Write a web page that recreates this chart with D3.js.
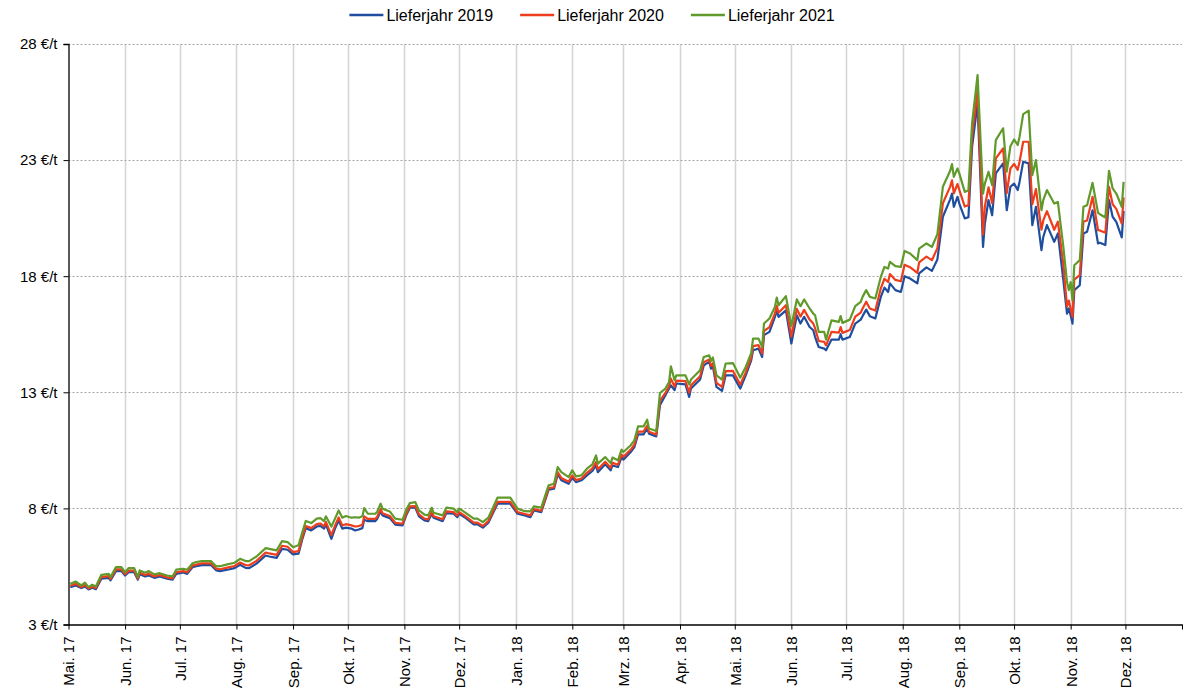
<!DOCTYPE html>
<html>
<head>
<meta charset="utf-8">
<script src="https://cdn.jsdelivr.net/npm/d3@7"></script>
<style>
  body { margin: 0; background: #fff; }
  text { font-family: "Liberation Sans", Arial, sans-serif; fill: #000; }
</style>
</head>
<body>
<div id="chart"></div>
<script>
// series names + colours
const seriesNames = ["Lieferjahr 2019", "Lieferjahr 2020", "Lieferjahr 2021"];
const seriesColors = ["#1f4e9e", "#ee3d1c", "#5f9a2b"];

// trading days
const dates = [
  "2017-05-02","2017-05-05","2017-05-08","2017-05-10","2017-05-12","2017-05-14","2017-05-16","2017-05-19","2017-05-23","2017-05-24",
  "2017-05-27","2017-05-30","2017-06-01","2017-06-03","2017-06-06","2017-06-08","2017-06-09","2017-06-12","2017-06-14","2017-06-17",
  "2017-06-20","2017-06-24","2017-06-27","2017-06-29","2017-07-03","2017-07-05","2017-07-08","2017-07-10","2017-07-13","2017-07-18",
  "2017-07-21","2017-07-23","2017-07-27","2017-07-31","2017-08-03","2017-08-06","2017-08-08","2017-08-12","2017-08-17","2017-08-19",
  "2017-08-23","2017-08-26","2017-08-29","2017-09-01","2017-09-04","2017-09-06","2017-09-08","2017-09-11","2017-09-14","2017-09-16",
  "2017-09-18","2017-09-19","2017-09-22","2017-09-24","2017-09-26","2017-09-28","2017-09-30","2017-10-03","2017-10-05","2017-10-07",
  "2017-10-09","2017-10-10","2017-10-12","2017-10-16","2017-10-17","2017-10-19","2017-10-20","2017-10-24","2017-10-27","2017-10-31",
  "2017-11-02","2017-11-04","2017-11-07","2017-11-09","2017-11-12","2017-11-14","2017-11-16","2017-11-17","2017-11-22","2017-11-24",
  "2017-11-28","2017-11-30","2017-12-01","2017-12-04","2017-12-09","2017-12-11","2017-12-14","2017-12-17","2017-12-22","2017-12-29",
  "2018-01-02","2018-01-06","2018-01-09","2018-01-11","2018-01-15","2018-01-19","2018-01-22","2018-01-24","2018-01-26","2018-01-30",
  "2018-02-01","2018-02-03","2018-02-06","2018-02-09","2018-02-12","2018-02-14","2018-02-15","2018-02-19","2018-02-22","2018-02-23",
  "2018-02-26","2018-02-28","2018-03-01","2018-03-05","2018-03-07","2018-03-09","2018-03-12","2018-03-14","2018-03-15","2018-03-19",
  "2018-03-21","2018-03-24","2018-03-26","2018-03-27","2018-03-29","2018-03-30","2018-04-04","2018-04-06","2018-04-07","2018-04-12",
  "2018-04-14","2018-04-17","2018-04-18","2018-04-19","2018-04-21","2018-04-24","2018-04-26","2018-04-30","2018-05-04","2018-05-07",
  "2018-05-10","2018-05-11","2018-05-14","2018-05-16","2018-05-17","2018-05-20","2018-05-23","2018-05-24","2018-05-25","2018-05-29",
  "2018-06-01","2018-06-04","2018-06-06","2018-06-08","2018-06-11","2018-06-13","2018-06-14","2018-06-16","2018-06-19","2018-06-20",
  "2018-06-23","2018-06-27","2018-06-28","2018-06-29","2018-07-03","2018-07-06","2018-07-09","2018-07-10","2018-07-12","2018-07-14",
  "2018-07-17","2018-07-20","2018-07-22","2018-07-24","2018-07-25","2018-07-28","2018-07-31","2018-08-02","2018-08-05","2018-08-09",
  "2018-08-10","2018-08-14","2018-08-17","2018-08-20","2018-08-23","2018-08-27","2018-08-28","2018-08-29","2018-08-31","2018-09-01",
  "2018-09-04","2018-09-06","2018-09-08","2018-09-11","2018-09-14","2018-09-15","2018-09-17","2018-09-19","2018-09-21","2018-09-25",
  "2018-09-27","2018-09-29","2018-10-01","2018-10-03","2018-10-04","2018-10-06","2018-10-09","2018-10-11","2018-10-13","2018-10-16",
  "2018-10-17","2018-10-19","2018-10-23","2018-10-25","2018-10-28","2018-10-30","2018-10-31","2018-11-01","2018-11-02","2018-11-03",
  "2018-11-06","2018-11-08","2018-11-10","2018-11-13","2018-11-16","2018-11-17","2018-11-20","2018-11-22","2018-11-24","2018-11-26",
  "2018-11-29","2018-11-30"
];

const ly2019 = [
  4.61,4.68,4.57,4.64,4.51,4.58,4.52,4.97,5.01,4.90,
  5.30,5.30,5.11,5.25,5.25,4.93,5.16,5.07,5.11,5.01,
  5.07,4.97,4.93,5.18,5.24,5.18,5.47,5.51,5.56,5.56,
  5.33,5.30,5.36,5.43,5.57,5.44,5.43,5.62,5.97,5.93,
  5.87,6.26,6.22,6.02,6.05,6.65,7.15,7.05,7.22,7.25,
  7.13,7.31,6.69,7.13,7.48,7.13,7.17,7.13,7.05,7.09,
  7.15,7.51,7.45,7.45,7.53,7.88,7.70,7.58,7.30,7.27,
  7.70,8.03,8.03,7.66,7.48,7.45,7.77,7.60,7.45,7.80,
  7.77,7.62,7.77,7.62,7.31,7.31,7.17,7.38,8.20,8.20,
  7.77,7.70,7.62,7.91,7.84,8.81,8.85,9.47,9.21,9.06,
  9.32,9.13,9.21,9.42,9.61,9.85,9.56,9.90,9.64,9.85,
  9.78,10.21,10.10,10.43,10.64,11.19,11.19,11.44,11.22,11.10,
  12.44,12.87,13.16,13.30,13.09,13.38,13.34,12.80,13.16,13.55,
  14.16,14.31,14.02,14.12,13.23,13.06,13.73,13.73,13.16,13.73,
  14.38,14.81,14.88,14.52,15.46,15.60,16.25,16.53,16.25,16.53,
  15.10,16.32,15.96,16.25,15.81,15.67,15.38,14.95,14.88,14.81,
  15.27,15.27,15.50,15.27,15.38,15.96,16.13,16.28,16.56,16.28,
  16.18,17.11,17.51,17.32,17.69,17.40,17.32,18.00,17.90,17.69,
  18.12,18.38,18.23,18.72,20.56,21.31,21.56,20.99,21.42,21.13,
  20.49,20.54,23.57,25.44,19.26,20.27,21.28,20.63,22.43,22.86,
  20.84,21.85,21.99,21.71,22.06,22.93,22.86,20.20,20.99,19.12,
  19.69,20.20,19.48,19.84,17.83,16.39,16.61,16.32,15.96,17.40,
  17.61,19.84,19.91,20.84,19.41,19.44,19.34,21.28,20.56,20.34,
  19.67,20.81
];

const ly2020 = [
  4.67,4.75,4.61,4.70,4.55,4.63,4.57,5.04,5.08,4.96,
  5.37,5.37,5.17,5.32,5.32,4.97,5.23,5.13,5.19,5.07,
  5.13,5.03,4.99,5.25,5.30,5.25,5.54,5.58,5.63,5.63,
  5.40,5.38,5.45,5.52,5.67,5.56,5.55,5.74,6.10,6.06,
  6.00,6.39,6.35,6.12,6.16,6.74,7.24,7.15,7.32,7.35,
  7.23,7.42,6.85,7.26,7.61,7.27,7.32,7.27,7.22,7.24,
  7.30,7.66,7.55,7.55,7.62,7.98,7.79,7.67,7.38,7.34,
  7.77,8.09,8.10,7.74,7.56,7.53,7.85,7.66,7.53,7.87,
  7.84,7.69,7.84,7.69,7.39,7.39,7.24,7.45,8.28,8.28,
  7.84,7.76,7.70,7.97,7.90,8.87,8.91,9.56,9.31,9.15,
  9.42,9.22,9.29,9.53,9.72,10.00,9.69,10.01,9.75,9.97,
  9.88,10.32,10.22,10.53,10.74,11.31,11.31,11.57,11.30,11.18,
  12.63,12.97,13.26,13.59,13.24,13.50,13.48,12.99,13.30,13.69,
  14.29,14.41,14.14,14.25,13.41,13.23,13.91,13.92,13.33,13.86,
  14.49,14.99,15.03,14.67,15.64,15.81,16.40,16.73,16.43,16.75,
  15.40,16.59,16.26,16.55,16.13,15.96,15.76,15.21,15.17,15.02,
  15.60,15.57,15.81,15.56,15.68,16.26,16.43,16.61,16.90,16.61,
  16.52,17.48,17.89,17.75,18.09,17.84,17.78,18.49,18.39,18.14,
  18.60,18.84,18.69,19.21,21.14,21.86,22.13,21.57,21.97,21.72,
  21.00,21.06,24.02,26.02,19.80,21.00,21.83,21.15,23.07,23.50,
  21.58,22.64,22.84,22.58,22.93,23.79,23.79,21.10,21.75,20.00,
  20.40,20.80,20.00,20.35,18.50,16.70,16.95,16.60,16.25,17.85,
  18.05,20.35,20.40,21.42,19.98,19.97,19.87,21.85,21.10,20.90,
  20.27,21.39
];

const ly2021 = [
  4.75,4.85,4.68,4.80,4.61,4.71,4.64,5.14,5.18,5.04,
  5.47,5.47,5.25,5.43,5.43,5.04,5.33,5.23,5.30,5.16,
  5.21,5.11,5.07,5.36,5.40,5.36,5.64,5.69,5.73,5.73,
  5.50,5.51,5.59,5.66,5.83,5.73,5.73,5.93,6.29,6.26,
  6.19,6.59,6.55,6.33,6.41,6.95,7.46,7.37,7.56,7.58,
  7.45,7.66,7.22,7.56,7.91,7.60,7.67,7.60,7.62,7.60,
  7.66,8.01,7.77,7.77,7.84,8.20,7.99,7.87,7.56,7.51,
  7.94,8.23,8.27,7.91,7.73,7.70,8.03,7.81,7.70,8.03,
  7.99,7.84,7.99,7.84,7.56,7.56,7.41,7.60,8.46,8.46,
  7.99,7.88,7.87,8.09,8.03,8.99,9.06,9.78,9.56,9.35,
  9.64,9.38,9.42,9.71,9.90,10.28,9.93,10.21,9.95,10.19,
  10.07,10.53,10.43,10.72,10.93,11.53,11.53,11.82,11.44,11.33,
  12.97,13.16,13.44,14.12,13.52,13.73,13.73,13.34,13.55,13.95,
  14.52,14.59,14.35,14.50,13.73,13.55,14.24,14.26,13.63,14.09,
  14.69,15.31,15.31,14.95,15.96,16.18,16.68,17.08,16.75,17.14,
  15.85,17.00,16.71,17.00,16.61,16.39,16.32,15.60,15.60,15.27,
  16.10,16.03,16.28,15.99,16.13,16.71,16.89,17.11,17.40,17.11,
  17.04,17.97,18.40,18.33,18.62,18.43,18.40,19.09,18.98,18.69,
  19.19,19.41,19.26,19.81,21.85,22.54,22.83,22.28,22.64,22.43,
  21.63,21.70,24.58,26.66,21.56,21.99,22.50,21.92,23.86,24.37,
  22.50,23.60,23.89,23.65,24.00,24.98,25.13,22.35,23.00,20.84,
  21.28,21.71,21.13,21.20,19.26,17.75,17.40,17.75,16.97,18.47,
  18.69,20.99,21.06,22.02,20.73,20.67,20.53,22.54,21.78,21.56,
  20.99,22.06
];

// axis ticks
const yTicks = [3, 8, 13, 18, 23, 28];
const yTickLabels = ["3 €/t", "8 €/t", "13 €/t", "18 €/t", "23 €/t", "28 €/t"];
const monthLabels = [
  "Mai. 17", "Jun. 17", "Jul. 17", "Aug. 17", "Sep. 17", "Okt. 17", "Nov. 17", "Dez. 17",
  "Jan. 18", "Feb. 18", "Mrz. 18", "Apr. 18", "Mai. 18", "Jun. 18", "Jul. 18", "Aug. 18",
  "Sep. 18", "Okt. 18", "Nov. 18", "Dez. 18"
];

const width = 1184;
const height = 691;
const plotLeft = 68.5;
const plotRight = 1182;
const plotTop = 44;
const plotBottom = 624.5;

const parse = d3.timeParse("%Y-%m-%d");
const dateObjs = dates.map(parse);
const startDate = new Date(2017, 4, 1);
const endDate = new Date(2019, 0, 1);
const monthTicks = d3.timeMonth.range(startDate, new Date(2018, 11, 2));

const svg = d3
  .select("#chart")
  .append("svg")
  .attr("width", width)
  .attr("height", height);

const x = d3.scaleTime().domain([startDate, endDate]).range([plotLeft, plotRight]);
const y = d3.scaleLinear().domain([3, 28]).range([plotBottom, plotTop]);

//vertical gridlines (months)
svg
  .append("g")
  .selectAll("line")
  .data(monthTicks.slice(1))
  .enter()
  .append("line")
  .attr("x1", (d) => Math.round(x(d)) + 0.5)
  .attr("x2", (d) => Math.round(x(d)) + 0.5)
  .attr("y1", plotTop)
  .attr("y2", plotBottom)
  .attr("stroke", "#d4d4d4")
  .attr("stroke-width", 1.5);

//horizontal gridlines (dashed)
svg
  .append("g")
  .selectAll("line")
  .data(yTicks.slice(1))
  .enter()
  .append("line")
  .attr("x1", plotLeft)
  .attr("x2", plotRight)
  .attr("y1", (d) => Math.round(y(d)) + 0.5)
  .attr("y2", (d) => Math.round(y(d)) + 0.5)
  .attr("stroke", "#a6a6a6")
  .attr("stroke-width", 1)
  .attr("stroke-dasharray", "2,2");

//series lines
const series = [ly2019, ly2020, ly2021].map((vals, i) => ({
  name: seriesNames[i],
  color: seriesColors[i],
  points: vals.map((v, j) => ({ date: dateObjs[j], value: v })),
}));

const line = d3
  .line()
  .x((d) => x(d.date))
  .y((d) => y(d.value));

svg
  .append("g")
  .selectAll("path")
  .data(series)
  .enter()
  .append("path")
  .attr("d", (d) => line(d.points))
  .attr("fill", "none")
  .attr("stroke", (d) => d.color)
  .attr("stroke-width", 2.2)
  .attr("stroke-linejoin", "round");

//y axis
const yAxis = svg
  .append("g")
  .attr("transform", `translate(${plotLeft},0)`)
  .call(
    d3
      .axisLeft(y)
      .tickValues(yTicks)
      .tickSize(5)
      .tickPadding(6)
      .tickFormat((d, i) => yTickLabels[i])
  );
yAxis.select(".domain").attr("stroke", "#000").attr("stroke-width", 1.3);
yAxis.selectAll(".tick line").attr("stroke", "#000");
yAxis.selectAll("text").style("font-size", "15px").style("font-family", '"Liberation Sans", Arial, sans-serif');

//x axis
const xAxis = svg
  .append("g")
  .attr("transform", `translate(0,${plotBottom})`)
  .call(
    d3
      .axisBottom(x)
      .tickValues(monthTicks.concat([endDate]))
      .tickSize(5)
      .tickSizeOuter(0)
      .tickFormat((d, i) => monthLabels[i] || "")
  );
xAxis.select(".domain").attr("stroke", "#000").attr("stroke-width", 1.3);
xAxis.selectAll(".tick line").attr("stroke", "#000");
xAxis
  .selectAll("text")
  .style("font-size", "15px")
  .style("font-family", '"Liberation Sans", Arial, sans-serif')
  .style("text-anchor", "end")
  .attr("transform", "rotate(-90)")
  .attr("x", -12)
  .attr("y", 0)
  .attr("dy", "0.36em");

//legend
const legend = svg.append("g").attr("id", "legend");
let cursor = 0;
series.forEach((s) => {
  const item = legend.append("g").attr("transform", `translate(${cursor},0)`);
  item
    .append("line")
    .attr("x1", 0)
    .attr("x2", 34)
    .attr("y1", 15)
    .attr("y2", 15)
    .attr("stroke", s.color)
    .attr("stroke-width", 2.5);
  const t = item
    .append("text")
    .attr("x", 37)
    .attr("y", 15)
    .attr("dy", "0.35em")
    .style("font-size", "16px")
    .text(s.name);
  cursor += 37 + t.node().getComputedTextLength() + 27;
});
const legendWidth = cursor - 27;
legend.attr("transform", `translate(${(width - legendWidth) / 2},0)`);
</script>
</body>
</html>
